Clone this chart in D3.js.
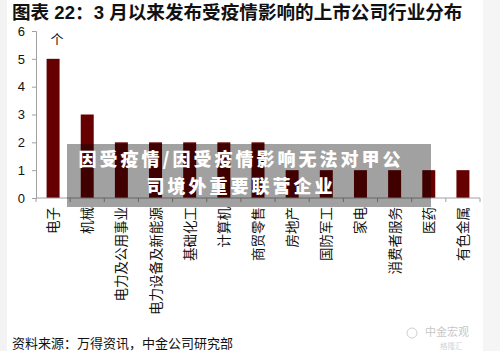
<!DOCTYPE html>
<html lang="zh">
    <head>
        <meta charset="utf-8">
        <title>3月以来发布受疫情影响的上市公司行业分布</title>
        <script src="https://d3js.org/d3.v7.min.js"></script>
        <style type="text/css">
            body {
                margin: 0;
                background: #ffffff;
            }
            text {
                font-family: "Noto Sans CJK SC", "Noto Sans", sans-serif;
            }
            .title {
                font-family: "Liberation Sans", "Noto Sans CJK SC", sans-serif;
            }
            .axis path,
            .axis line {
                stroke: #a0a0a0;
            }
            .axis text {
                font-family: "Liberation Sans", Arial, sans-serif;
                font-size: 13px;
                fill: #111;
            }
            .bar {
                fill: #660000;
            }
        </style>
    </head>
    <body>
        <script type="text/javascript">

            const w = 500;
            const h = 351;

            // data
            const industries = ["电子", "机械", "电力及公用事业", "电力设备及新能源", "基础化工", "计算机",
                                "商贸零售", "房地产", "国防军工", "家电", "消费者服务", "医药", "有色金属"];
            const counts = [5, 3, 2, 2, 2, 2, 2, 1, 1, 1, 1, 1, 1];
            const yTicks = [0, 1, 2, 3, 4, 5, 6];
            const captionLines = ["因受疫情/因受疫情影响无法对甲公", "司境外重要联营企业"];

            const data = industries.map((name, i) => ({name: name, value: counts[i]}));

            const svg = d3.select("body")
                          .append("svg")
                          .attr("width", w)
                          .attr("height", h);

            // page background strips at the left and right edge
            svg.append("rect").attr("x", 0).attr("y", 0).attr("width", 7).attr("height", h).attr("fill", "#f3f3f3");
            svg.append("rect").attr("x", 483).attr("y", 0).attr("width", 17).attr("height", h).attr("fill", "#f5f5f5");

            // title
            svg.append("text")
               .attr("class", "title")
               .attr("x", 12)
               .attr("y", 19.2)
               .attr("font-size", "18.6px")
               .attr("font-weight", "bold")
               .attr("fill", "#111")
               .text("图表 22：3 月以来发布受疫情影响的上市公司行业分布");

            // scales
            const xScale = d3.scaleBand()
                             .domain(industries)
                             .range([36, 480])
                             .paddingInner(0.62)
                             .paddingOuter(0.31);

            const yScale = d3.scaleLinear()
                             .domain([0, 6])
                             .range([198, 31]);

            // left axis
            const leftAxis = d3.axisLeft(yScale)
                               .tickValues(yTicks)
                               .tickSize(4)
                               .tickSizeOuter(4)
                               .tickPadding(7)
                               .tickFormat(d3.format("d"));

            svg.append("g")
               .attr("class", "axis")
               .attr("transform", "translate(36,0)")
               .call(leftAxis);

            // unit
            svg.append("text")
               .attr("x", 57)
               .attr("y", 44)
               .attr("text-anchor", "middle")
               .attr("font-size", "13px")
               .attr("fill", "#111")
               .text("个");

            // bars
            svg.selectAll(".bar")
               .data(data)
               .enter()
               .append("rect")
               .attr("class", "bar")
               .attr("x", d => xScale(d.name))
               .attr("width", xScale.bandwidth())
               .attr("y", d => yScale(d.value))
               .attr("height", d => yScale(0) - yScale(d.value));

            // bottom axis: line plus ticks at category boundaries
            const step = xScale.step();
            const x0 = xScale.range()[0];
            const boundaries = d3.range(industries.length + 1).map(i => x0 + i * step);
            const bottom = svg.append("g").attr("class", "axis");
            bottom.append("line")
                  .attr("x1", x0).attr("x2", xScale.range()[1])
                  .attr("y1", yScale(0)).attr("y2", yScale(0));
            bottom.selectAll(".tick")
                  .data(boundaries)
                  .enter()
                  .append("line")
                  .attr("x1", d => d).attr("x2", d => d)
                  .attr("y1", yScale(0)).attr("y2", yScale(0) + 4);

            // category labels, rotated to read bottom-to-top
            svg.selectAll(".xlabel")
               .data(industries)
               .enter()
               .append("text")
               .attr("class", "xlabel")
               .attr("transform", d => "translate(" + (xScale(d) + xScale.bandwidth() / 2 + 5) + "," + (yScale(0) + 9) + ") rotate(-90)")
               .attr("text-anchor", "end")
               .attr("font-size", "13.5px")
               .attr("fill", "#111")
               .text(d => d);

            // source note
            svg.append("text")
               .attr("x", 12)
               .attr("y", 348)
               .attr("font-size", "13px")
               .attr("fill", "#111")
               .text("资料来源：万得资讯，中金公司研究部");

            // faint watermark
            svg.append("text")
               .attr("x", 425)
               .attr("y", 336)
               .attr("font-size", "11px")
               .attr("fill", "#c8c8c8")
               .text("中金宏观");
            svg.append("text")
               .attr("x", 440)
               .attr("y", 348.5)
               .attr("font-size", "7.5px")
               .attr("fill", "#d4d4d4")
               .text("格隆汇");
            svg.append("circle")
               .attr("cx", 412).attr("cy", 333).attr("r", 5)
               .attr("fill", "none").attr("stroke", "#cfcfcf");

            // news caption overlay
            svg.append("rect")
               .attr("x", 67)
               .attr("y", 144)
               .attr("width", 364)
               .attr("height", 63)
               .attr("fill", "#000")
               .attr("fill-opacity", 0.37);

            svg.selectAll(".caption")
               .data(captionLines)
               .enter()
               .append("text")
               .attr("class", "caption")
               .attr("x", 241)
               .attr("y", (d, i) => 166 + i * 27)
               .attr("text-anchor", "middle")
               .attr("font-size", "18px")
               .attr("letter-spacing", "3px")
               .attr("font-weight", "900")
               .attr("fill", "#fff")
               .text(d => d);
        </script>
    </body>
</html>
